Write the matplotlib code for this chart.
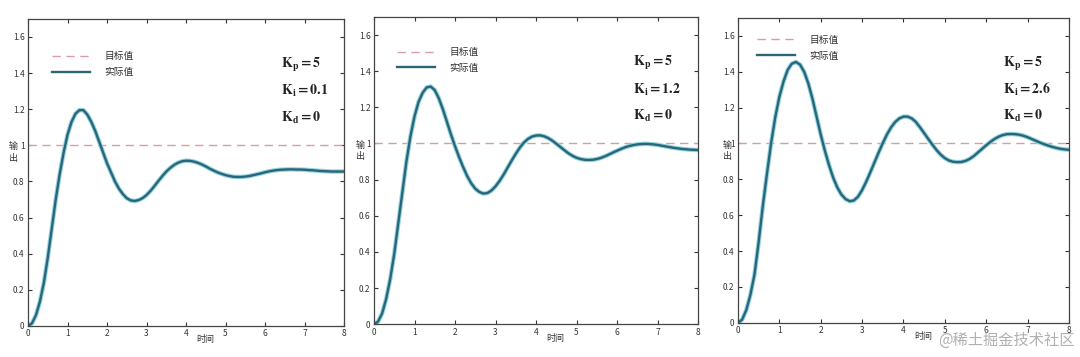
import matplotlib
matplotlib.use("Agg")
import matplotlib.pyplot as plt
import numpy as np

plt.rcParams['font.family'] = ['Noto Sans CJK SC', 'DejaVu Sans']
plt.rcParams['mathtext.fontset'] = 'stix'

# time grid (s), same for all three runs, step 0.1
t = np.linspace(0, 8, 81)

# output, Kp=5, Kd=0
y_ki01 = [0, 0.015, 0.06, 0.135, 0.24, 0.38, 0.54, 0.70, 0.84, 0.96,
          1.06, 1.13, 1.175, 1.195, 1.195, 1.17, 1.13, 1.08, 1.02, 0.96,
          0.90, 0.85, 0.80, 0.76, 0.73, 0.707, 0.695, 0.692, 0.697, 0.708,
          0.725, 0.748, 0.775, 0.803, 0.83, 0.855, 0.875, 0.892, 0.904, 0.912,
          0.915, 0.914, 0.91, 0.903, 0.894, 0.883, 0.871, 0.86, 0.85, 0.842,
          0.835, 0.83, 0.826, 0.825, 0.825, 0.827, 0.83, 0.835, 0.84, 0.845,
          0.851, 0.856, 0.86, 0.863, 0.865, 0.866, 0.867, 0.867, 0.866, 0.866,
          0.865, 0.863, 0.862, 0.86, 0.858, 0.857, 0.856, 0.855, 0.855, 0.855,
          0.855]
y_ki12 = [0, 0.015, 0.06, 0.14, 0.25, 0.39, 0.56, 0.73, 0.90, 1.04,
          1.15, 1.23, 1.28, 1.31, 1.315, 1.295, 1.25, 1.19, 1.12, 1.05,
          0.985, 0.925, 0.87, 0.82, 0.78, 0.75, 0.732, 0.723, 0.726, 0.74,
          0.763, 0.793, 0.828, 0.867, 0.906, 0.943, 0.977, 1.005, 1.025, 1.038,
          1.044, 1.045, 1.04, 1.03, 1.016, 0.999, 0.981, 0.963, 0.946, 0.932,
          0.921, 0.914, 0.91, 0.909, 0.91, 0.914, 0.92, 0.929, 0.939, 0.95,
          0.96, 0.97, 0.979, 0.986, 0.991, 0.995, 0.997, 0.998, 0.997, 0.995,
          0.992, 0.988, 0.984, 0.98, 0.976, 0.973, 0.97, 0.968, 0.966, 0.965,
          0.964]
y_ki26 = [0, 0.017, 0.07, 0.155, 0.27, 0.45, 0.65, 0.83, 1.00, 1.145,
          1.26, 1.345, 1.41, 1.445, 1.455, 1.44, 1.40, 1.335, 1.25, 1.15,
          1.05, 0.96, 0.88, 0.81, 0.755, 0.715, 0.69, 0.678, 0.682, 0.703,
          0.74, 0.787, 0.84, 0.895, 0.95, 1.002, 1.05, 1.09, 1.12, 1.14,
          1.15, 1.15, 1.14, 1.12, 1.09, 1.058, 1.025, 0.993, 0.963, 0.938,
          0.918, 0.905, 0.898, 0.896, 0.897, 0.903, 0.914, 0.93, 0.95, 0.97,
          0.99, 1.009, 1.025, 1.038, 1.047, 1.052, 1.053, 1.052, 1.049, 1.043,
          1.035, 1.025, 1.015, 1.005, 0.996, 0.988, 0.981, 0.975, 0.97, 0.967,
          0.965]
ki_labels = ['0.1', '1.2', '2.6']
target = 1.0

# axes boxes [left, bottom, width, height] in figure fractions
boxes = [[0.026, 0.087, 0.2926, 0.860],
         [0.3463, 0.0916, 0.300, 0.861],
         [0.6833, 0.096, 0.3065, 0.8535]]
leg_anchor = [(0.076, 0.853), (0.071, 0.860), (0.057, 0.903)]
ylab_x = [-0.047, -0.043, -0.033]

fig = plt.figure(figsize=(10.8, 3.57), dpi=100)

for i, y in enumerate([y_ki01, y_ki12, y_ki26]):
    ax = fig.add_axes(boxes[i])
    ax.plot([0, 8], [target, target], color='#d79ca4', lw=1.0,
            dashes=(6, 4), label='目标值')
    # light cyan halo under the dark teal line
    ax.plot(t, y, color='#8fd6e2', lw=3.2, solid_joinstyle='round')
    ax.plot(t, y, color='#2c6478', lw=1.7, solid_joinstyle='round',
            label='实际值')
    ax.set_xlim(0, 8)
    ax.set_ylim(0, 1.7)
    ax.set_xticks(range(0, 9))
    ax.set_yticks(np.arange(0, 1.61, 0.2))
    ax.set_yticklabels(['%g' % v for v in np.arange(0, 1.61, 0.2).round(1)])
    ax.tick_params(direction='in', length=3, width=0.8, labelsize=6,
                   colors='#333333', top=True, right=True, pad=2.5)
    for s in ax.spines.values():
        s.set_color('#444444')
        s.set_linewidth(0.9)

    h, l = ax.get_legend_handles_labels()
    ax.legend(h, l, loc='center left', bbox_to_anchor=leg_anchor[i],
              frameon=False, fontsize=7, handlelength=3.9,
              handletextpad=1.5, labelspacing=0.6, borderpad=0,
              borderaxespad=0, labelcolor='#333333')

    ax.text(0.80, 0.85, r'$\mathbf{K_p=5}$', transform=ax.transAxes,
            fontsize=10, va='center', color='#222222')
    ax.text(0.80, 0.764, r'$\mathbf{K_i=%s}$' % ki_labels[i],
            transform=ax.transAxes, fontsize=10, va='center', color='#222222')
    ax.text(0.80, 0.677, r'$\mathbf{K_d=0}$', transform=ax.transAxes,
            fontsize=10, va='center', color='#222222')

    ax.text(0.56, -0.045, '时间', transform=ax.transAxes, fontsize=6.5,
            ha='center', va='center', color='#333333')
    ax.text(ylab_x[i], 0.565, '输\n出', transform=ax.transAxes, fontsize=6.5,
            ha='center', va='center', color='#333333', linespacing=1.3)

fig.text(0.995, 0.046, '@稀土掘金技术社区', fontsize=11, color='#b0b0b0',
         ha='right', va='center')

fig.savefig('out.png', dpi=100)
